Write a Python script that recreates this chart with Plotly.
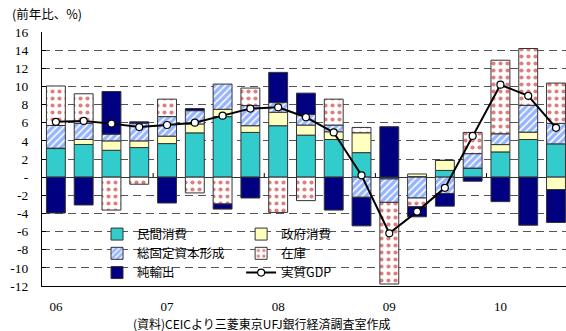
import plotly.graph_objects as go

quarters = ["06Q1","06Q2","06Q3","06Q4","07Q1","07Q2","07Q3","07Q4",
            "08Q1","08Q2","08Q3","08Q4","09Q1","09Q2","09Q3","09Q4",
            "10Q1","10Q2","10Q3"]
private_cons = [3.15, 3.6, 2.96, 3.26, 3.7, 4.88, 6.67, 4.93, 5.67, 4.63, 4.15, 2.7,
                -0.2, 0.05, 0.74, 1.0, 2.78, 4.15, 3.67]
gov_cons = [0.05, 0.55, 1.04, 0.74, 0.82, 0.98, 0.81, 0.74, 1.48, 1.11, 0.85, 2.19,
            0.0, 0.3, 1.11, 0.0, 0.81, 0.81, -1.37]
gfcf = [2.5, 1.78, 0.74, 1.95, 2.15, 1.47, 2.78, 2.22, 1.07, 1.17, 0.74, -2.22,
        -2.58, -2.3, -1.8, 1.59, 1.19, 2.96, 2.26]
inventory = [4.35, 3.26, -3.63, -0.78, 1.93, -1.74, -2.96, 1.93, -3.89, -2.59, 2.86, 0.59,
             -9.0, -0.96, 0.0, 2.34, 8.11, 6.26, 4.44]
net_exports = [-3.95, -3.07, 4.7, 0.15, -2.85, 0.23, -0.56, -2.3, 3.33, 2.35, -3.63, -3.15,
               5.56, -1.11, -1.4, -0.45, -2.7, -5.3, -3.63]
real_gdp = [6.1, 6.2, 5.9, 5.52, 5.75, 6.0, 6.78, 7.56, 7.7, 6.6, 4.93, 0.2,
            -6.19, -3.8, -1.18, 4.54, 10.19, 8.96, 5.44]

year_labels = ["06", "07", "08", "09", "10"]
year_ticks = [quarters.index(y + "Q1") for y in year_labels]
year_bounds = [t - 0.5 for t in year_ticks[1:]]

ytick_vals = list(range(-12, 17, 2))
ytick_text = [str(v) if v != 0 else "-" for v in ytick_vals]

xs = list(range(len(quarters)))
line_style = dict(color="#333333", width=1)
jp_font = "Noto Sans CJK JP"
num_font = "Liberation Serif"

fig = go.Figure()
fig.add_bar(x=xs, y=private_cons, name="民間消費", legend="legend",
            marker=dict(color="#33CCCC", line=line_style))
fig.add_bar(x=xs, y=gov_cons, name="政府消費", legend="legend2",
            marker=dict(color="#FFFFC0", line=line_style))
fig.add_bar(x=xs, y=gfcf, name="総固定資本形成", legend="legend",
            marker=dict(color="#FFFFFF", line=line_style,
                        pattern=dict(shape="/", fgcolor="#2F6BFF", bgcolor="#FFFFFF",
                                     size=5, solidity=0.7)))
fig.add_bar(x=xs, y=inventory, name="在庫", legend="legend2",
            marker=dict(color="#FFFFFF", line=line_style,
                        pattern=dict(shape=".", fgcolor="#C00000", bgcolor="#FFFFFF",
                                     size=7, solidity=0.28)))
fig.add_bar(x=xs, y=net_exports, name="純輸出", legend="legend",
            marker=dict(color="#000080", line=line_style))
fig.add_scatter(x=xs, y=real_gdp, name="実質GDP", legend="legend2", mode="lines+markers",
                line=dict(color="#000000", width=2),
                marker=dict(symbol="circle", size=7, color="#FFFFFF",
                            line=dict(color="#000000", width=1.2)))

# white backing for the legend area
fig.add_shape(type="rect", xref="paper", yref="paper", x0=0.082, x1=0.585,
              y0=0.022, y1=0.262, fillcolor="white", line=dict(width=0), layer="between")

# small year-boundary ticks on the zero line
for b in year_bounds:
    fig.add_shape(type="line", xref="x", yref="y", x0=b, x1=b, y0=0, y1=0.45,
                  line=dict(color="#000000", width=1), layer="above")

fig.update_layout(
    width=566, height=331,
    margin=dict(l=42, r=0, t=32, b=45),
    paper_bgcolor="white", plot_bgcolor="white",
    barmode="relative", bargap=0.32,
    showlegend=True,
    font=dict(family=num_font, size=13, color="#000000"),
    legend=dict(x=0.105, y=0.262, xanchor="left", yanchor="top", bgcolor="rgba(0,0,0,0)",
                font=dict(family=jp_font, size=12.5), tracegroupgap=0, itemwidth=30),
    legend2=dict(x=0.38, y=0.262, xanchor="left", yanchor="top", bgcolor="rgba(0,0,0,0)",
                 font=dict(family=jp_font, size=12.5), tracegroupgap=0, itemwidth=30),
    xaxis=dict(range=[-0.5, len(quarters) - 1 + 0.36], tickvals=year_ticks, ticktext=year_labels,
               showgrid=False, zeroline=False, showline=True, linecolor="#000000", linewidth=1,
               ticks="", ticklabelstandoff=8, tickfont=dict(family=num_font, size=13)),
    yaxis=dict(range=[-12, 16], tickvals=ytick_vals, ticktext=ytick_text,
               showgrid=True, gridcolor="#555555", griddash="8px,5px", gridwidth=1,
               zeroline=True, zerolinecolor="#333333", zerolinewidth=1.2,
               showline=True, linecolor="#000000", linewidth=1,
               ticks="inside", ticklen=4, tickcolor="#000000",
               ticklabelstandoff=10, tickfont=dict(family=num_font, size=13.5)),
    annotations=[
        dict(text="(前年比、%)", xref="paper", yref="paper", x=-0.062, y=1.072,
             xanchor="left", yanchor="middle", showarrow=False,
             font=dict(family=jp_font, size=12.5)),
        dict(text="(資料)CEICより三菱東京UFJ銀行経済調査室作成", xref="paper", yref="paper",
             x=0.42, y=-0.146, xanchor="center", yanchor="middle", showarrow=False,
             font=dict(family=jp_font, size=12)),
    ],
)

fig.write_html("out.html")
